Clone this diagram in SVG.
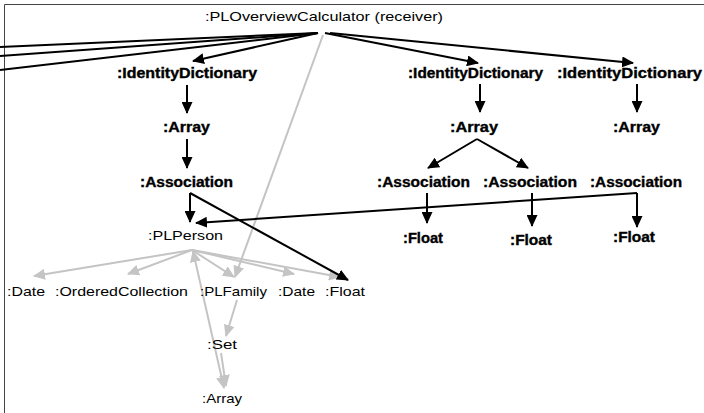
<svg xmlns="http://www.w3.org/2000/svg" width="704" height="413" viewBox="0 0 704 413">
<defs>
<style>
.b{font-family:"Liberation Sans",Arial,sans-serif;font-weight:bold;font-size:14px;fill:#000;stroke:#000;stroke-width:0.35}
.r{font-family:"Liberation Sans",Arial,sans-serif;font-size:13.5px;fill:#000}
.k{stroke:#000;stroke-width:2;fill:none}
.g{stroke:#c4c4c4;stroke-width:2;fill:none}
</style>
<marker id="ak" markerWidth="12" markerHeight="11" refX="11" refY="5.5" orient="auto" markerUnits="userSpaceOnUse"><path d="M0,0 L12,5.5 L0,11 Z" fill="#000"/></marker>
<marker id="ag" markerWidth="12" markerHeight="11" refX="11" refY="5.5" orient="auto" markerUnits="userSpaceOnUse"><path d="M0,0 L12,5.5 L0,11 Z" fill="#c4c4c4"/></marker>
<marker id="ags" markerWidth="12" markerHeight="11" refX="11" refY="5.5" orient="auto-start-reverse" markerUnits="userSpaceOnUse"><path d="M0,0 L12,5.5 L0,11 Z" fill="#c4c4c4"/></marker>
</defs>
<rect x="0" y="0" width="704" height="413" fill="#fff"/>
<path d="M4.5,413 V4.5 H704" stroke="#444" stroke-width="1" fill="none"/>
<g id="connectors">
<g id="gray-connectors">
<line class="g" x1="323" y1="35" x2="235" y2="277" marker-end="url(#ag)"/>
<line class="g" x1="192" y1="250" x2="34" y2="276" marker-end="url(#ag)"/>
<line class="g" x1="192" y1="250" x2="128" y2="274" marker-end="url(#ag)"/>
<line class="g" x1="192" y1="250" x2="234" y2="277" marker-end="url(#ag)"/>
<line class="g" x1="192" y1="250" x2="294" y2="274" marker-end="url(#ag)"/>
<line class="g" x1="192" y1="250" x2="340" y2="277" marker-end="url(#ag)"/>
<line class="g" x1="193" y1="251" x2="224" y2="388" marker-start="url(#ags)" marker-end="url(#ags)"/>
<line class="g" x1="237" y1="300" x2="226" y2="336" marker-end="url(#ag)"/>
<line class="g" x1="221" y1="353" x2="226" y2="386" marker-end="url(#ag)"/>
</g>
<g id="black-connectors">
<line class="k" x1="318" y1="33" x2="0" y2="47"/>
<line class="k" x1="318" y1="33" x2="0" y2="56"/>
<line class="k" x1="318" y1="33" x2="0" y2="70"/>
<line class="k" x1="318" y1="33" x2="193" y2="61" marker-end="url(#ak)"/>
<line class="k" x1="325" y1="33" x2="478" y2="63" marker-end="url(#ak)"/>
<line class="k" x1="330" y1="33" x2="633" y2="63" marker-end="url(#ak)"/>
<line class="k" x1="187" y1="85" x2="187" y2="113" marker-end="url(#ak)"/>
<line class="k" x1="187" y1="139" x2="187" y2="168" marker-end="url(#ak)"/>
<line class="k" x1="480" y1="84" x2="480" y2="112" marker-end="url(#ak)"/>
<line class="k" x1="637" y1="84" x2="637" y2="112" marker-end="url(#ak)"/>
<line class="k" x1="477" y1="139" x2="428" y2="168" marker-end="url(#ak)"/>
<line class="k" x1="477" y1="139" x2="528" y2="168" marker-end="url(#ak)"/>
<line class="k" x1="190" y1="193" x2="190" y2="222" marker-end="url(#ak)"/>
<line class="k" x1="190" y1="193" x2="348" y2="280" marker-end="url(#ak)"/>
<line class="k" x1="427" y1="193" x2="427" y2="223" marker-end="url(#ak)"/>
<line class="k" x1="532" y1="193" x2="532" y2="226" marker-end="url(#ak)"/>
<line class="k" x1="637" y1="193" x2="637" y2="227" marker-end="url(#ak)"/>
<line class="k" x1="637" y1="193" x2="196" y2="223" marker-end="url(#ak)"/>
</g>
</g>
<g id="n-root"><text class="r" x="205" y="21" textLength="238" lengthAdjust="spacingAndGlyphs">:PLOverviewCalculator (receiver)</text></g>
<g id="n-id1"><text class="b" x="117" y="78" textLength="140" lengthAdjust="spacingAndGlyphs">:IdentityDictionary</text></g>
<g id="n-id2"><text class="b" x="408" y="78" textLength="135" lengthAdjust="spacingAndGlyphs">:IdentityDictionary</text></g>
<g id="n-id3"><text class="b" x="557" y="78" textLength="145" lengthAdjust="spacingAndGlyphs">:IdentityDictionary</text></g>
<g id="n-arr1"><text class="b" x="163" y="132" textLength="47" lengthAdjust="spacingAndGlyphs">:Array</text></g>
<g id="n-arr2"><text class="b" x="450" y="132" textLength="48" lengthAdjust="spacingAndGlyphs">:Array</text></g>
<g id="n-arr3"><text class="b" x="613" y="132" textLength="47" lengthAdjust="spacingAndGlyphs">:Array</text></g>
<g id="n-as1"><text class="b" x="140" y="187" textLength="93" lengthAdjust="spacingAndGlyphs">:Association</text></g>
<g id="n-as2"><text class="b" x="377" y="187" textLength="93" lengthAdjust="spacingAndGlyphs">:Association</text></g>
<g id="n-as3"><text class="b" x="483" y="187" textLength="94" lengthAdjust="spacingAndGlyphs">:Association</text></g>
<g id="n-as4"><text class="b" x="590" y="187" textLength="92" lengthAdjust="spacingAndGlyphs">:Association</text></g>
<g id="n-f1"><text class="b" x="403" y="243" textLength="40" lengthAdjust="spacingAndGlyphs">:Float</text></g>
<g id="n-f2"><text class="b" x="510" y="245" textLength="42" lengthAdjust="spacingAndGlyphs">:Float</text></g>
<g id="n-f3"><text class="b" x="613" y="242" textLength="42" lengthAdjust="spacingAndGlyphs">:Float</text></g>
<g id="n-person"><text class="r" x="148" y="240" textLength="75" lengthAdjust="spacingAndGlyphs">:PLPerson</text></g>
<g id="n-date1"><text class="r" x="7" y="296" textLength="38" lengthAdjust="spacingAndGlyphs">:Date</text></g>
<g id="n-oc"><text class="r" x="55" y="296" textLength="133" lengthAdjust="spacingAndGlyphs">:OrderedCollection</text></g>
<g id="n-family"><text class="r" x="200" y="296" textLength="67" lengthAdjust="spacingAndGlyphs">:PLFamily</text></g>
<g id="n-date2"><text class="r" x="278" y="296" textLength="37" lengthAdjust="spacingAndGlyphs">:Date</text></g>
<g id="n-float"><text class="r" x="325" y="296" textLength="40" lengthAdjust="spacingAndGlyphs">:Float</text></g>
<g id="n-set"><text class="r" x="207" y="349" textLength="30" lengthAdjust="spacingAndGlyphs">:Set</text></g>
<g id="n-array"><text class="r" x="202" y="403" textLength="40" lengthAdjust="spacingAndGlyphs">:Array</text></g>
</svg>
